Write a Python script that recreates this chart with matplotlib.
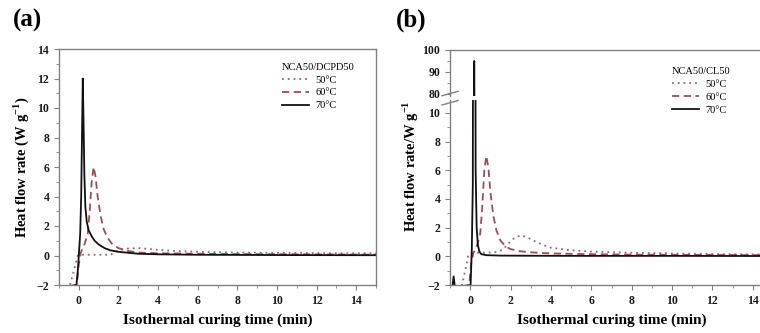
import matplotlib
matplotlib.use("Agg")
import matplotlib.pyplot as plt
from matplotlib.ticker import MultipleLocator

# ---- data ----
# panel (a) NCA50/DCPD50
a_t50 = [-1.0, -0.45, -0.3, -0.15, -0.05, 0.1, 0.5, 1.0, 1.6, 1.8, 2.0, 2.5, 3.0, 3.5, 4.0, 5.0, 6.0, 8.0, 10.0, 12.0, 15.0]
a_y50 = [-2.2, -2.0, -1.3, -0.5, 0.0, 0.05, 0.05, 0.05, 0.05, 0.2, 0.35, 0.48, 0.5, 0.45, 0.38, 0.3, 0.25, 0.2, 0.18, 0.16, 0.15]
a_t60 = [-1.0, -0.1, 0.0, 0.1, 0.3, 0.45, 0.55, 0.65, 0.75, 0.85, 0.95, 1.1, 1.25, 1.45, 1.7, 2.0, 2.5, 3.0, 4.0, 6.0, 8.0, 11.0, 15.0]
a_y60 = [-2.2, -2.0, -0.6, 0.2, 0.8, 1.5, 3.0, 5.0, 6.0, 5.3, 4.0, 2.7, 1.8, 1.2, 0.75, 0.5, 0.3, 0.2, 0.15, 0.12, 0.1, 0.08, 0.06]
a_t70 = [-1.0, -0.12, -0.05, 0.0, 0.07, 0.12, 0.17, 0.2, 0.24, 0.28, 0.33, 0.4, 0.5, 0.65, 0.8, 1.0, 1.3, 1.6, 2.0, 3.0, 4.0, 6.0, 10.0, 15.0]
a_y70 = [-2.2, -2.0, -1.0, 0.0, 1.5, 4.0, 9.0, 12.0, 9.0, 5.5, 3.3, 2.3, 1.7, 1.3, 1.0, 0.75, 0.5, 0.35, 0.25, 0.12, 0.08, 0.05, 0.03, 0.02]

# panel (b) NCA50/CL50
b_t50 = [-1.0, -0.4, -0.25, -0.1, 0.05, 0.3, 0.8, 1.3, 1.6, 1.9, 2.2, 2.5, 2.8, 3.2, 3.6, 4.0, 5.0, 6.0, 8.0, 10.0, 12.0, 15.0]
b_y50 = [-2.2, -2.0, -1.0, 0.0, 0.2, 0.25, 0.25, 0.3, 0.45, 0.9, 1.3, 1.45, 1.35, 1.05, 0.8, 0.6, 0.42, 0.33, 0.25, 0.2, 0.16, 0.12]
b_t60 = [-1.0, -0.05, 0.05, 0.15, 0.35, 0.5, 0.6, 0.7, 0.8, 0.9, 1.0, 1.15, 1.3, 1.5, 1.75, 2.0, 2.5, 3.0, 4.0, 6.0, 8.0, 11.0, 15.0]
b_y60 = [-2.2, -2.0, -0.5, 0.2, 0.8, 1.6, 3.5, 6.0, 7.0, 6.2, 4.5, 2.8, 1.8, 1.1, 0.7, 0.5, 0.35, 0.28, 0.2, 0.15, 0.12, 0.1, 0.08]
b_t70 = [-1.0, -0.88, -0.82, -0.76, -0.7, 0.02, 0.08, 0.13, 0.17, 0.2, 0.23, 0.27, 0.32, 0.38, 0.45, 0.55, 0.8, 1.5, 3.0, 6.0, 10.0, 15.0]
b_y70 = [-2.2, -2.1, -1.4, -2.1, -2.2, -2.0, 0.5, 5.0, 40.0, 95.0, 40.0, 6.0, 2.0, 0.8, 0.35, 0.15, 0.08, 0.05, 0.04, 0.03, 0.03, 0.02]

labels = ["50°C", "60°C", "70°C"]
col50, col60, col70 = "#8a6878", "#9e4c58", "#111111"
spine_col = "#808080"

plt.rcParams["font.family"] = ["Liberation Serif", "DejaVu Serif"]
plt.rcParams["mathtext.fontset"] = "custom"
plt.rcParams["mathtext.rm"] = "Liberation Serif"
plt.rcParams["mathtext.bf"] = "Liberation Serif:bold"

fig = plt.figure(figsize=(7.6, 3.33), dpi=100)


def style_axis(ax, bottom=True, top=True):
    for s in ax.spines.values():
        s.set_color(spine_col)
        s.set_linewidth(1.0)
    ax.spines["top"].set_visible(top)
    ax.spines["bottom"].set_visible(bottom)
    ax.tick_params(which="both", direction="out", colors=spine_col, labelcolor="#1a1a1a",
                   labelsize=8.5, top=False, right=False)
    ax.tick_params(which="major", length=3.5)
    ax.tick_params(which="minor", length=2)
    for lab in ax.get_xticklabels() + ax.get_yticklabels():
        lab.set_fontweight("bold")


def plot_series(ax, data):
    (t50, y50), (t60, y60), (t70, y70) = data
    ax.plot(t50, y50, ls=(0, (1, 2.2)), color=col50, lw=1.3, label=labels[0])
    ax.plot(t60, y60, ls=(0, (4, 2.5)), color=col60, lw=1.3, label=labels[1])
    ax.plot(t70, y70, ls="-", color=col70, lw=1.3, label=labels[2])


ylab_a = "Heat flow rate (W g$^{\\mathbf{-1}}$)"
ylab_b = "Heat flow rate/W g$^{\\mathbf{-1}}$"
xlab = "Isothermal curing time (min)"

# ---- panel (a) ----
axa = fig.add_axes([59 / 760, 48 / 333, 317 / 760, 236 / 333])
plot_series(axa, [(a_t50, a_y50), (a_t60, a_y60), (a_t70, a_y70)])
axa.set_xlim(-1, 15)
axa.set_ylim(-2, 14)
axa.xaxis.set_major_locator(MultipleLocator(2))
axa.xaxis.set_minor_locator(MultipleLocator(1))
axa.yaxis.set_major_locator(MultipleLocator(2))
axa.yaxis.set_minor_locator(MultipleLocator(1))
style_axis(axa)
axa.set_xlabel(xlab, fontsize=11, fontweight="bold", labelpad=5)
axa.set_ylabel(ylab_a, fontsize=10.5, fontweight="bold", labelpad=4)
axa.legend(title="NCA50/DCPD50", loc="upper left", bbox_to_anchor=(0.69, 0.96),
           frameon=False, fontsize=7.5, title_fontsize=7.5, handlelength=2.6,
           handletextpad=0.6, labelspacing=0.35, alignment="left", borderaxespad=0)
fig.text(13 / 760, 1 - 20 / 333, "(a)", fontsize=18, fontweight="bold", va="center")

# ---- panel (b): broken y axis ----
bl, bw = 450 / 760, 323 / 760
axb = fig.add_axes([bl, 48 / 333, bw, 185 / 333])
axu = fig.add_axes([bl, (333 - 96) / 333, bw, 46 / 333], sharex=axb)
axu.patch.set_visible(False)
for ax in (axb, axu):
    plot_series(ax, [(b_t50, b_y50), (b_t60, b_y60), (b_t70, b_y70)])
axb.set_xlim(-1, 15)
axb.set_ylim(-2, 10.9)
axu.set_ylim(79, 100)
axb.xaxis.set_major_locator(MultipleLocator(2))
axb.xaxis.set_minor_locator(MultipleLocator(1))
axb.yaxis.set_major_locator(MultipleLocator(2))
axb.yaxis.set_minor_locator(MultipleLocator(1))
axu.set_yticks([80, 90, 100])
axu.yaxis.set_minor_locator(MultipleLocator(5))
style_axis(axb, top=False)
style_axis(axu, bottom=False)
axu.tick_params(axis="x", which="both", bottom=False, labelbottom=False)
axb.set_xlabel(xlab, fontsize=11, fontweight="bold", labelpad=5)
fig.text(411 / 760, 0.5, ylab_b, rotation=90, fontsize=10.5,
         fontweight="bold", ha="center", va="center")
# break marks on the left spine
for y0 in (0.985, 1.035):
    axb.plot([-0.025, 0.025], [y0 - 0.012, y0 + 0.012], transform=axb.transAxes,
             color=spine_col, lw=1.0, clip_on=False)
leg = axb.legend(title="NCA50/CL50", loc="upper left", bbox_to_anchor=(0.675, 1.2),
                 frameon=False, fontsize=7.5, title_fontsize=7.5, handlelength=2.6,
                 handletextpad=0.6, labelspacing=0.35, alignment="left", borderaxespad=0)
leg.set_zorder(10)
fig.text(396 / 760, 1 - 20 / 333, "(b)", fontsize=18, fontweight="bold", va="center")

fig.savefig("out.png", dpi=100)
